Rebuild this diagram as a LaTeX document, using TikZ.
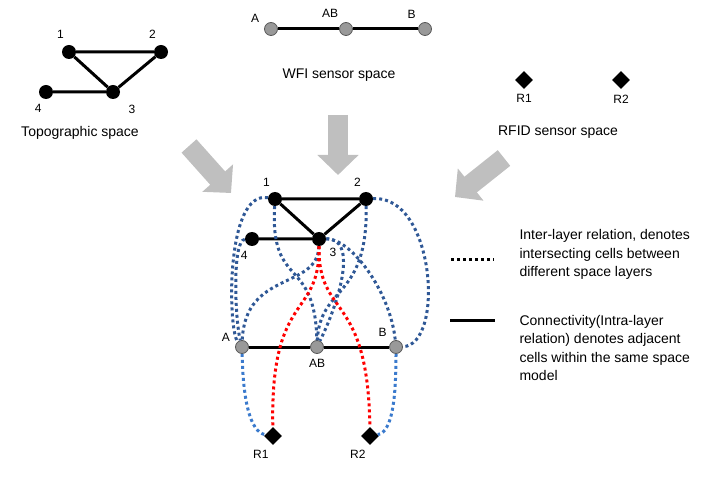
\documentclass[tikz,border=0pt]{standalone}
\usepackage{fontspec}
\setmainfont{Liberation Sans}
\usetikzlibrary{shapes.geometric,arrows.meta}
\definecolor{linkblue}{RGB}{47,88,150}
\definecolor{lightblue}{RGB}{58,122,205}
\tikzset{
  cell/.style={circle,fill=black,inner sep=0pt,minimum size=14pt},
  wcell/.style={circle,fill=gray!80,draw=black!65,line width=0.8pt,inner sep=0pt,minimum size=13pt},
  tag/.style={diamond,fill=black,inner sep=0pt,minimum size=18pt},
  lbl/.style={font=\fontsize{12}{14}\selectfont,label distance=2pt},
  adj/.style={line width=3pt},
  inter/.style={line width=3pt,dash pattern=on 3pt off 3pt},
  bigarrow/.style={line width=20pt,draw=gray!50,-{Triangle[length=20pt,width=40pt]}}
}
\begin{document}
\begin{tikzpicture}[x=1pt,y=-1pt,font=\fontsize{14}{18.5}\selectfont]
  \useasboundingbox (0,0) rectangle (725,478);
  % source spaces
  \foreach \n/\x/\y/\p/\d in {1/69/52/100/3,2/161/52/100/3,3/113/92/-38/8,4/46/92/-95/2}
    \node[cell,label={[lbl,label distance=\d pt]\p:\n}] (t\n) at (\x,\y) {};
  \draw[adj] (t1) -- (t2) -- (t3) -- (t1) (t4) -- (t3);
  \node (topoCap) at (80,133) {Topographic space};
  \foreach \n/\x/\p in {A/271/160,AB/346/120,B/425/130}
    \node[wcell,label={[lbl]\p:\n}] (w\n) at (\x,29) {};
  \draw[adj] (wA) -- (wAB) -- (wB);
  \node (wfiCap) at (339,75) {WFI sensor space};
  \foreach \n/\x in {1/524,2/621}
    \node[tag,label={[lbl]-90:R\n}] (r\n) at (\x,80) {};
  \node (rfidCap) at (558,132) {RFID sensor space};
  % merging arrows
  \draw[bigarrow] (189,146) -- (231,193);
  \draw[bigarrow] (338,115) -- (338,175);
  \draw[bigarrow] (504,158) -- (455,197);
  % combined model
  \foreach \n/\x/\y/\p in {1/275/199/100,2/366/199/100,3/319/239/-40,4/252/239/-95}
    \node[cell,label={[lbl]\p:\n}] (c\n) at (\x,\y) {};
  \foreach \n/\x/\p in {A/242/165,AB/317/-90,B/396/130}
    \node[wcell,label={[lbl]\p:\n}] (c\n) at (\x,347) {};
  \foreach \n/\x in {1/273,2/370}
    \node[tag,label={[lbl]-95:R\n}] (cR\n) at (\x,436) {};
  \draw[adj] (c1) -- (c2) -- (c3) -- (c1) (c4) -- (c3);
  \draw[adj] (cA) -- (cAB) -- (cB);
  \draw[inter,linkblue] (c1) .. controls (225,190) and (228,330) .. (cA);
  \draw[inter,linkblue] (c4) .. controls (232,240) and (235,320) .. (cA);
  \draw[inter,linkblue] (c1) .. controls (270,290) and (315,255) .. (cAB);
  \draw[inter,linkblue] (c3) .. controls (318,290) and (245,270) .. (cA);
  \draw[inter,linkblue] (c3) .. controls (358,238) and (340,300) .. (cAB);
  \draw[inter,linkblue] (c3) .. controls (350,238) and (390,290) .. (cB);
  \draw[inter,linkblue] (c2) .. controls (435,195) and (445,345) .. (cB);
  \draw[inter,linkblue] (c2) .. controls (368,300) and (320,285) .. (cAB);
  \draw[inter,red] (c3) .. controls (320,320) and (270,290) .. (cR1);
  \draw[inter,red] (c3) .. controls (318,320) and (368,290) .. (cR2);
  \draw[inter,lightblue] (cA) .. controls (243,400) and (250,432) .. (cR1);
  \draw[inter,lightblue] (cB) .. controls (396,400) and (392,432) .. (cR2);
  % legend
  \coordinate (interL) at (451,260);
  \coordinate (interR) at (494,260);
  \coordinate (intraL) at (450,320);
  \coordinate (intraR) at (495,320);
  \draw[inter] (interL) -- (interR);
  \draw[adj] (intraL) -- (intraR);
  \node[align=left,anchor=west] (interText) at (516,254.5)
    {Inter-layer relation, denotes\\intersecting cells between\\different space layers};
  \node[align=left,anchor=west] (intraText) at (516,347.75)
    {Connectivity(Intra-layer\\relation) denotes adjacent\\cells within the same space\\model};
\end{tikzpicture}
\end{document}
